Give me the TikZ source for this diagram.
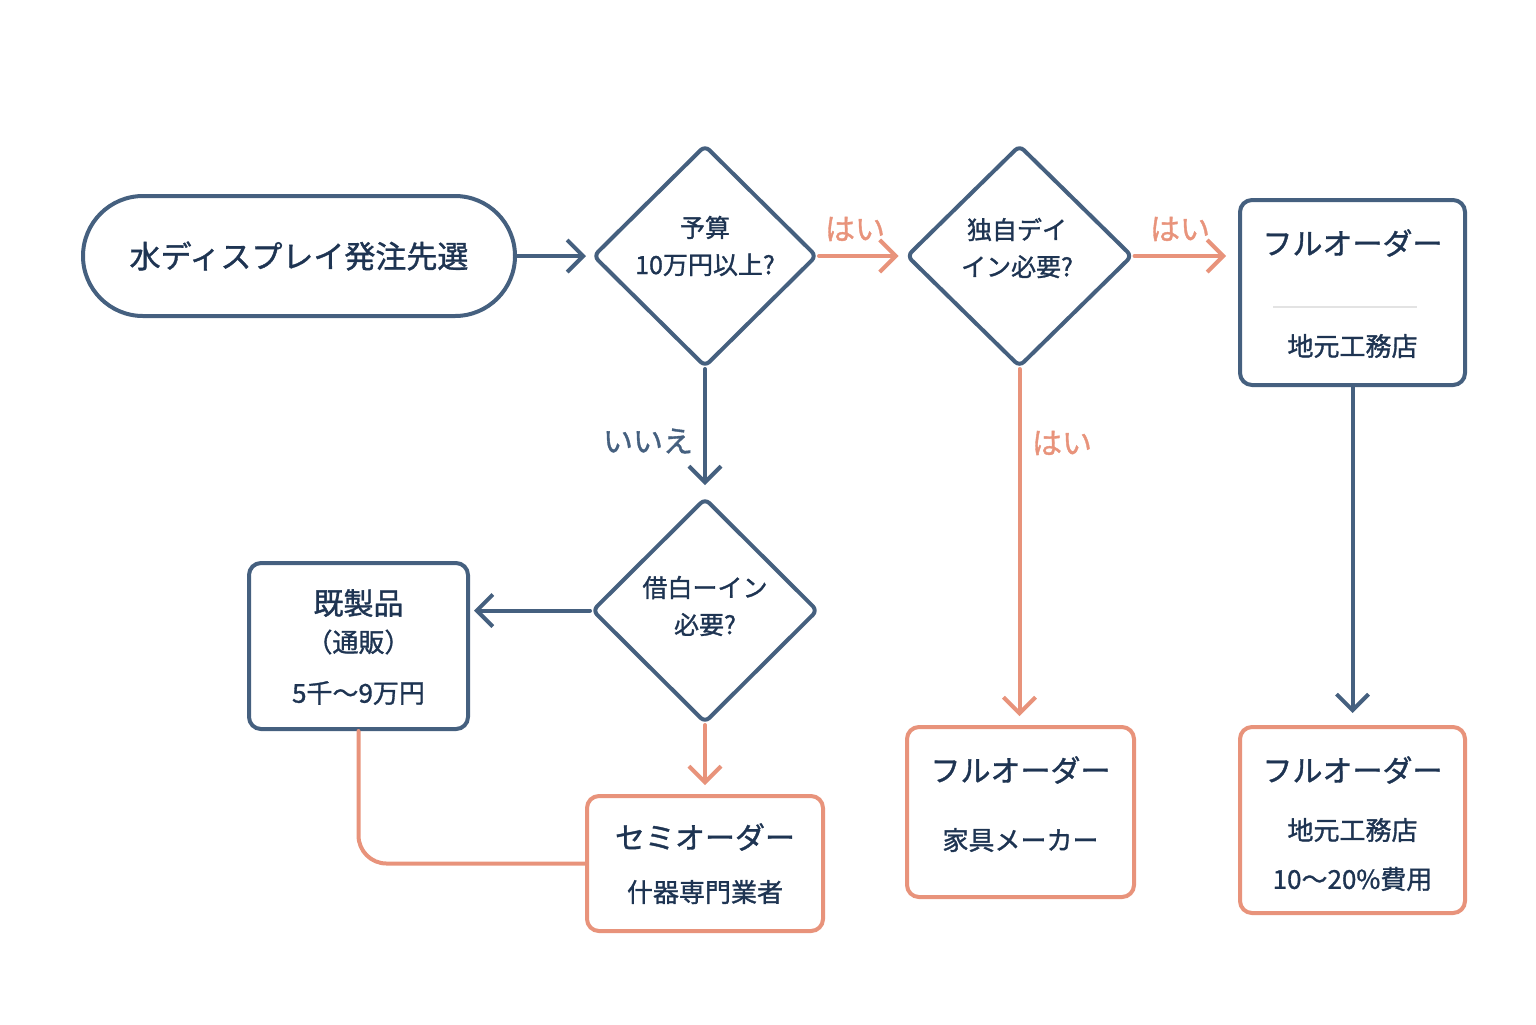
\documentclass[tikz,border=0pt]{standalone}
\usepackage{fontspec}
\newfontfamily\cjk{Noto Sans CJK JP}
\newfontfamily\cjkb[FakeBold=1.2]{Noto Sans CJK JP}
\usetikzlibrary{shapes.geometric,arrows.meta}
\definecolor{lineblue}{HTML}{45607F}
\definecolor{lineorange}{HTML}{E8937B}
\definecolor{textnavy}{HTML}{1E3452}
\definecolor{sepgray}{HTML}{E3E3E3}
\begin{document}
\begin{tikzpicture}[x=0.5pt,y=-0.5pt,
  every node/.style={font=\cjk, text=textnavy},
  decision/.style={diamond, draw=lineblue, line width=2pt, rounded corners=3pt, inner sep=0pt},
  dectext/.style={align=center, font=\cjkb\fontsize{12.5}{18.5}\selectfont},
  boxblue/.style={rectangle, draw=lineblue, line width=2pt, rounded corners=6pt, inner sep=0pt},
  boxorange/.style={rectangle, draw=lineorange, line width=2pt, rounded corners=6pt, inner sep=0pt},
  titletext/.style={font=\cjkb\fontsize{15}{18}\selectfont},
  subtext/.style={font=\cjkb\fontsize{13}{16}\selectfont},
  yeslabel/.style={font=\cjkb\fontsize{15}{18}\selectfont, text=lineorange},
  nolabel/.style={font=\cjkb\fontsize{15}{18}\selectfont, text=lineblue},
  conblue/.style={draw=lineblue, line width=2pt, line cap=round, -{Straight Barb[length=8pt,width=16pt,line width=2pt]}},
  conorange/.style={draw=lineorange, line width=2pt, line cap=round, -{Straight Barb[length=8pt,width=16pt,line width=2pt]}},
  conorangeplain/.style={draw=lineorange, line width=2pt, line cap=round}
]
\useasboundingbox (0,0) rectangle (1536,1024);

% start
\node[rectangle, draw=lineblue, line width=2pt, rounded corners=30pt, minimum width=216pt, minimum height=60pt, font=\cjkb\fontsize{15.5}{18}\selectfont] (start) at (299,256) {水ディスプレイ発注先選};

% decisions
\node[decision, minimum width=112pt, minimum height=111pt] (d1) at (705,256) {};
\node[dectext] (d1t) at (705,246) {予算\\10万円以上?};
\node[decision, minimum width=113pt, minimum height=111pt] (d2) at (1019.5,256) {};
\node[dectext] (d2t) at (1017,248) {独自デイ\\イン必要?};
\node[decision, minimum width=113pt, minimum height=112.5pt] (d3) at (705,610.5) {};
\node[dectext] (d3t) at (705,606) {借白ーイン\\必要?};

% boxes
\node[boxblue, minimum width=112.5pt, minimum height=92.5pt] (tr) at (1352.5,292.5) {};
\node[titletext] (trt) at (1352.5,243) {フルオーダー};
\draw[sepgray, line width=0.8pt] (1273,307) -- (1417,307);
\node[subtext] (trs) at (1352.5,346) {地元工務店};

\node[boxorange, minimum width=112.5pt, minimum height=93pt] (br) at (1352.5,820) {};
\node[titletext] (brt) at (1352.5,770) {フルオーダー};
\node[subtext] (brs) at (1352.5,830) {地元工務店};
\node[subtext] (brc) at (1352.5,879) {10〜20\%費用};

\node[boxorange, minimum width=113.5pt, minimum height=85pt] (bm) at (1020.5,812) {};
\node[titletext] (bmt) at (1020.5,770) {フルオーダー};
\node[subtext] (bms) at (1020.5,840) {家具メーカー};

\node[boxblue, minimum width=109.5pt, minimum height=83pt] (lb) at (358.5,646) {};
\node[titletext] (lbt) at (358.5,603) {既製品};
\node[subtext] (lbs) at (358.5,642) {（通販）};
\node[subtext] (lbc) at (358.5,693) {5千〜9万円};

\node[boxorange, minimum width=118pt, minimum height=67.5pt] (semi) at (705,863.5) {};
\node[titletext] (semit) at (705,837) {セミオーダー};
\node[subtext] (semis) at (705,892) {什器専門業者};

% connectors
\draw[conblue, shorten >=2.5pt] (start.east) -- (d1.west);
\draw[conorange, shorten >=3pt] (d1.east) -- (d2.west);
\draw[conorange, shorten >=6pt] (d2.east) -- (d2.east -| tr.west);
\draw[conblue, shorten >=6pt] (tr.south) -- (br.north);
\draw[conorange, shorten >=4.5pt] (d2.south) -- (d2.south |- bm.north);
\draw[conblue, shorten >=5.5pt] (d1.south) -- (d3.north);
\draw[conblue, shorten >=2pt] (d3.west) -- (d3.west -| lb.east);
\draw[conorange, shorten >=4.5pt] (d3.south) -- (semi.north);
\draw[conorangeplain, rounded corners=14pt] (lb.south) |- (semi.west);

% labels
\node[yeslabel] (y1) at (855,229) {はい};
\node[yeslabel] (y2) at (1180,229) {はい};
\node[yeslabel] (y3) at (1062,443) {はい};
\node[nolabel] (n1) at (648,441) {いいえ};
\end{tikzpicture}
\end{document}
